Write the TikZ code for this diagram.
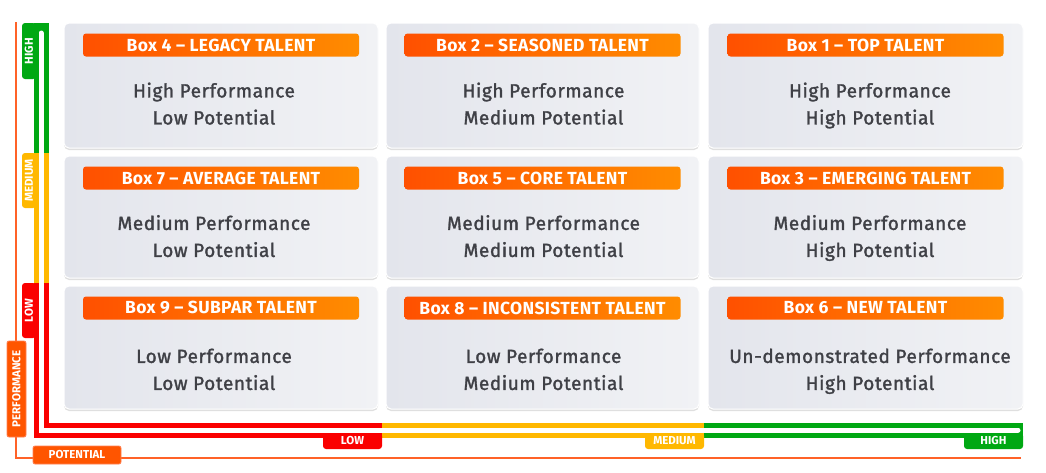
\documentclass[tikz,border=0pt]{standalone}
\usepackage{fontspec}
\setmainfont{Fira Sans}
\newfontfamily\bodyf{Fira Sans}[LetterSpace=3, FakeBold=1.5]
\newfontfamily\hdrf{Fira Sans}[LetterSpace=2]
\usetikzlibrary{shadows}
\definecolor{hdrL}{HTML}{FF5000}
\definecolor{hdrR}{HTML}{FF8C00}
\definecolor{boxA}{HTML}{E3E5EC}
\definecolor{boxB}{HTML}{F1F2F5}
\definecolor{txt}{HTML}{3F4046}
\definecolor{gr}{HTML}{00A813}
\definecolor{ye}{HTML}{FFB800}
\definecolor{rd}{HTML}{FA0000}
\definecolor{ax}{HTML}{FF6228}
\definecolor{axf}{HTML}{FF5500}
\tikzset{
  cellbox/.style={rectangle, rounded corners=5pt, draw=white, line width=1pt,
    left color=boxA, right color=boxB,
    drop shadow={shadow xshift=0pt, shadow yshift=-2pt, opacity=0.35, fill=black!35}},
  hdr/.style={rectangle, rounded corners=3pt, minimum width=276pt, minimum height=23pt,
    left color=hdrL, right color=hdrR, text=white, inner sep=0pt,
    font=\hdrf\bfseries\fontsize{17.5}{17.5}\selectfont},
  body/.style={align=center, text=txt, inner sep=0pt, font=\bodyf\fontsize{19}{27}\selectfont},
  vtab/.style={rectangle, rounded corners=3pt, rotate=90, text=white, inner sep=0pt,
    minimum height=14pt, font=\bfseries\fontsize{11.5}{11.5}\selectfont},
  htab/.style={rectangle, rounded corners=3pt, text=white, inner sep=0pt,
    minimum height=16pt, minimum width=59pt, font=\bfseries\fontsize{11.5}{11.5}\selectfont},
  axlabel/.style={rectangle, rounded corners=2pt, fill=axf, draw=ax!80!white, line width=0.8pt,
    text=white, inner sep=0pt, font=\bfseries\fontsize{11.5}{11.5}\selectfont},
  band/.style={line width=15pt, line join=miter},
}
\newcommand\mkcell[9]{%
  \node[cellbox, minimum width=#4, minimum height=#5] (#1) at (#2,#3) {};
  \node[hdr] (#1h) at ([yshift=-22.5pt]#1.north) {#6};
  \node[body] (#1t) at ([#9]#1.north) {\strut#7\\\strut#8};
}
\begin{document}
\begin{tikzpicture}[x=1pt,y=-1pt]
\useasboundingbox[fill=white] (0,0) rectangle (1046,472);

% outer performance / potential axis
\coordinate (oTop) at (16,22);
\coordinate (oCorner) at (16,458);
\coordinate (oEnd) at (1021,458);
\draw[ax, line width=2pt] (oTop) -- (oCorner) -- (oEnd);
\node[axlabel, rotate=90, minimum width=96pt, minimum height=19pt] (perf) at (16.5,389) {PERFORMANCE};
\node[axlabel, minimum width=88pt, minimum height=18pt] (pot) at (77,455) {POTENTIAL};

% inner coloured axis
\coordinate (vTop) at (41,23);
\coordinate (vG) at (41,153);
\coordinate (vY) at (41,283);
\coordinate (cor) at (41,430);
\coordinate (hR) at (382,430);
\coordinate (hY) at (704,430);
\coordinate (hEnd) at (1023,430);
\draw[band, gr] (vTop) -- (vG);
\draw[band, ye] (vG) -- (vY);
\draw[band, rd] (vY) -- (cor) -- (hR);
\draw[band, ye] (hR) -- (hY);
\draw[band, gr] (hY) -- (hEnd);
\draw[white, line width=5pt, line cap=round, line join=miter] ([yshift=-10pt]vTop) -- (cor) -- ([xshift=-5pt]hEnd);
\node[vtab, fill=gr, minimum width=56pt] (tH) at (29,51) {HIGH};
\node[vtab, fill=ye, minimum width=55pt] (tM) at (29,180.5) {MEDIUM};
\node[vtab, fill=rd, minimum width=55pt] (tL) at (29,310.5) {LOW};
\node[htab, fill=rd] (bL) at (352.5,441) {LOW};
\node[htab, fill=ye] (bM) at (674.5,441) {MEDIUM};
\node[htab, fill=gr] (bH) at (993.5,441) {HIGH};

% cells
\mkcell{c4}{221}{85.5}{314pt}{125pt}{Box 4 – LEGACY TALENT}{High Performance}{Low Potential}{xshift=-7pt,yshift=-83pt}
\mkcell{c2}{542.5}{85.5}{313pt}{125pt}{Box 2 – SEASONED TALENT}{High Performance}{Medium Potential}{xshift=1pt,yshift=-83pt}
\mkcell{c1}{865.5}{85.5}{315pt}{125pt}{Box 1 – TOP TALENT}{High Performance}{High Potential}{xshift=4.5pt,yshift=-83pt}
\mkcell{c7}{221}{217}{314pt}{122pt}{Box 7 – AVERAGE TALENT}{Medium Performance}{Low Potential}{xshift=-7pt,yshift=-82.5pt}
\mkcell{c5}{542.5}{217}{313pt}{122pt}{Box 5 – CORE TALENT}{Medium Performance}{Medium Potential}{xshift=1pt,yshift=-82.5pt}
\mkcell{c3}{865.5}{217}{315pt}{122pt}{Box 3 – EMERGING TALENT}{Medium Performance}{High Potential}{xshift=4.5pt,yshift=-82.5pt}
\mkcell{c9}{221}{347.5}{314pt}{123pt}{Box 9 – SUBPAR TALENT}{Low Performance}{Low Potential}{xshift=-7pt,yshift=-85.5pt}
\mkcell{c8}{542.5}{347.5}{313pt}{123pt}{Box 8 – INCONSISTENT TALENT}{Low Performance}{Medium Potential}{xshift=1pt,yshift=-85.5pt}
\mkcell{c6}{865.5}{347.5}{315pt}{123pt}{Box 6 – NEW TALENT}{Un-demonstrated Performance}{High Potential}{xshift=4.5pt,yshift=-85.5pt}
\end{tikzpicture}
\end{document}
